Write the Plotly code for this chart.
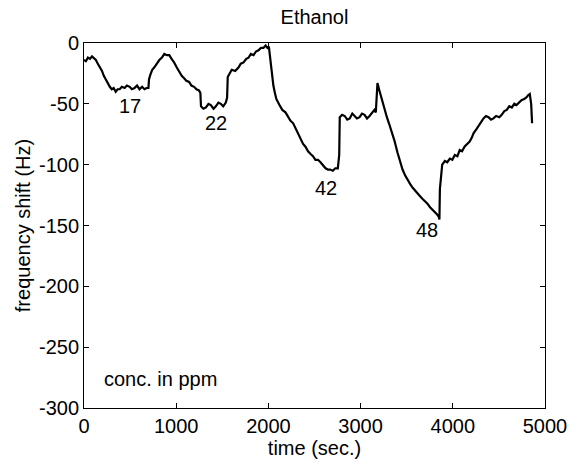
import plotly.graph_objects as go

# Data (time in seconds, frequency shift in Hz)
time_s = [0, 20, 43, 65, 86, 108, 129, 150, 172, 195, 215, 237, 258, 280, 301, 322, 344, 365, 387, 410,
          441, 465, 495, 520, 548, 575, 602, 630, 656, 680, 699, 705, 720, 740, 763, 790, 817, 845, 871, 900,
          925, 950, 978, 1005, 1032, 1060, 1086, 1110, 1140, 1165, 1194, 1220, 1247, 1262, 1269, 1295, 1323, 1350,
          1376, 1405, 1430, 1458, 1484, 1510, 1538, 1552, 1559, 1580, 1602, 1640, 1677, 1700, 1731, 1760, 1785,
          1810, 1839, 1865, 1892, 1920, 1946, 1970, 1989, 2005, 2022, 2040, 2054, 2070, 2086, 2120, 2151, 2185,
          2215, 2240, 2269, 2295, 2323, 2350, 2376, 2400, 2430, 2455, 2484, 2510, 2538, 2565, 2591, 2620, 2645,
          2670, 2699, 2725, 2753, 2768, 2774, 2800, 2828, 2855, 2882, 2910, 2935, 2960, 2989, 3015, 3043, 3070,
          3097, 3125, 3150, 3165, 3172, 3183, 3200, 3226, 3258, 3285, 3312, 3340, 3366, 3400, 3430, 3455, 3484,
          3510, 3538, 3565, 3591, 3620, 3645, 3670, 3699, 3725, 3753, 3780, 3806, 3830, 3849, 3855, 3860, 3885,
          3914, 3940, 3968, 3995, 4022, 4050, 4075, 4100, 4129, 4155, 4183, 4205, 4226, 4255, 4280, 4305, 4333,
          4360, 4387, 4415, 4441, 4470, 4505, 4530, 4559, 4585, 4613, 4640, 4667, 4690, 4720, 4745, 4774, 4795,
          4817, 4835, 4850, 4860]
shift_hz = [-14, -15, -12, -13, -11, -13, -14, -17, -20, -23, -27, -30, -34, -36, -38, -37, -40, -38, -38, -36,
            -37, -35, -36, -38, -37, -35, -38, -36, -38, -37, -37, -30, -26, -22, -20, -17, -14, -12, -9, -10,
            -10, -13, -16, -20, -24, -27, -29, -31, -32, -35, -36, -38, -39, -41, -52, -54, -53, -50, -51, -54,
            -52, -49, -50, -52, -49, -45, -28, -25, -22, -23, -20, -17, -16, -13, -12, -9, -10, -7, -6, -4,
            -4, -2, -4, -3, -15, -25, -35, -41, -46, -51, -55, -57, -61, -64, -66, -70, -75, -79, -83, -85,
            -89, -91, -93, -96, -96, -98, -100, -103, -104, -104, -105, -103, -103, -92, -61, -59, -60, -63,
            -62, -58, -60, -62, -61, -58, -59, -62, -60, -57, -55, -57, -50, -33, -38, -45, -55, -61, -67, -73,
            -80, -90, -98, -104, -109, -113, -116, -119, -121, -124, -126, -128, -130, -132, -135, -137, -139,
            -141, -143, -145, -120, -100, -97, -98, -95, -96, -92, -93, -88, -89, -85, -83, -81, -78, -74, -71,
            -68, -65, -62, -60, -61, -63, -62, -60, -61, -59, -56, -55, -52, -53, -50, -51, -49, -47, -46, -45,
            -43, -42, -50, -66]

# Concentration labels (ppm) and their positions in data units
conc_labels = ["17", "22", "42", "48"]
conc_x = [495, 1430, 2624, 3720]
conc_y = [-52, -66, -119, -154]

x_ticks = [0, 1000, 2000, 3000, 4000, 5000]
x_ticktext = ["0", "1000", "2000", "3000", "4000", "5000"]
y_ticks = [0, -50, -100, -150, -200, -250, -300]
y_ticktext = ["0", "-50", "-100", "-150", "-200", "-250", "-300"]

font_family = "Liberation Sans, Arial, sans-serif"
fs = 20

fig = go.Figure()
fig.add_trace(go.Scatter(x=time_s, y=shift_hz, mode="lines",
                         line=dict(color="black", width=2.2), showlegend=False))

for lab, xx, yy in zip(conc_labels, conc_x, conc_y):
    fig.add_annotation(x=xx, y=yy, text=lab, showarrow=False,
                       font=dict(size=fs, color="black", family=font_family))

fig.add_annotation(x=194, y=-276, text="conc. in ppm", showarrow=False, xanchor="left",
                   font=dict(size=fs, color="black", family=font_family))

fig.update_layout(
    width=579, height=465,
    margin=dict(l=84, r=31, t=43, b=57),
    paper_bgcolor="white", plot_bgcolor="white",
    title=dict(text="Ethanol", x=0.5, xref="paper", xanchor="center", y=1, yref="container",
               yanchor="top", pad=dict(t=10),
               font=dict(size=20, color="black", family=font_family)),
    font=dict(family=font_family, size=fs, color="black"),
)
fig.update_xaxes(range=[0, 5000], tickvals=x_ticks, ticktext=x_ticktext, ticks="inside", ticklen=5,
                 tickcolor="black", showline=True, linecolor="black", linewidth=1, mirror="ticks",
                 showgrid=False, zeroline=False,
                 title=dict(text="time (sec.)", standoff=0, font=dict(size=fs, family=font_family)),
                 tickfont=dict(size=fs, family=font_family))
fig.update_yaxes(range=[-300, 0], tickvals=y_ticks, ticktext=y_ticktext, ticks="inside", ticklen=5,
                 tickcolor="black", showline=True, linecolor="black", linewidth=1, mirror="ticks",
                 showgrid=False, zeroline=False,
                 title=dict(text="frequency shift (Hz)", standoff=2, font=dict(size=fs, family=font_family)),
                 tickfont=dict(size=fs, family=font_family))

fig.write_html("out.html", config={"displayModeBar": False},
               post_script="document.body.style.margin='0';document.body.style.overflow='hidden';")
